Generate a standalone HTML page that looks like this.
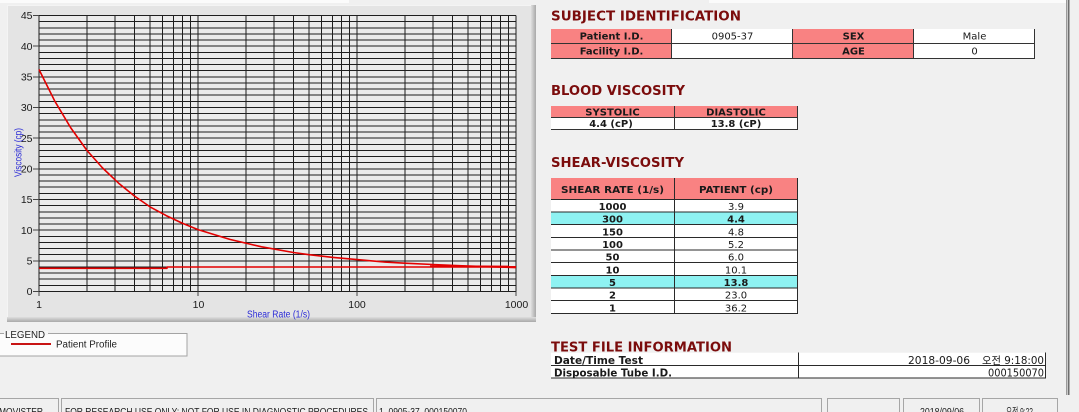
<!DOCTYPE html>
<html><head><meta charset="utf-8">
<style>html,body{margin:0;padding:0;background:#f0f0f0;overflow:hidden;width:1079px;height:412px}svg{display:block}</style>
</head><body>
<svg xmlns="http://www.w3.org/2000/svg" width="1079" height="412" viewBox="0 0 1079 412">
<defs>
<linearGradient id="gr" x1="0" x2="1" y1="0" y2="0"><stop offset="0" stop-color="#dedede"/><stop offset="1" stop-color="#a8a8a8"/></linearGradient>
<linearGradient id="gb" x1="0" x2="0" y1="0" y2="1"><stop offset="0" stop-color="#dedede"/><stop offset="1" stop-color="#a8a8a8"/></linearGradient>
</defs>
<rect x="0" y="0" width="1079" height="412" fill="#f0f0f0"/>
<rect x="0" y="0" width="349" height="3" fill="#fbfbfb"/>
<rect x="709" y="0" width="357" height="3" fill="#fbfbfb"/>

<!-- chart panel -->
<rect x="7" y="5" width="529" height="317" fill="#e4e4e4"/>
<rect x="7" y="5" width="529" height="1" fill="#f4f4f4"/>
<rect x="7" y="5" width="1" height="317" fill="#f4f4f4"/>
<rect x="531" y="5" width="5" height="317" fill="url(#gr)"/>
<rect x="7" y="317" width="529" height="5" fill="url(#gb)"/>
<rect x="39" y="15.5" width="477" height="276" fill="#ebebeb"/>

<g stroke="#1e1e1e" stroke-width="1" shape-rendering="crispEdges" fill="none">
<path d="M39 15.5V291.5M86.9 15.5V291.5M114.9 15.5V291.5M134.7 15.5V291.5M150.1 15.5V291.5M162.7 15.5V291.5M173.4 15.5V291.5M182.6 15.5V291.5M190.7 15.5V291.5M198 15.5V291.5M245.9 15.5V291.5M273.9 15.5V291.5M293.7 15.5V291.5M309.1 15.5V291.5M321.7 15.5V291.5M332.4 15.5V291.5M341.6 15.5V291.5M349.7 15.5V291.5M357 15.5V291.5M404.9 15.5V291.5M432.9 15.5V291.5M452.7 15.5V291.5M468.1 15.5V291.5M480.7 15.5V291.5M491.4 15.5V291.5M500.6 15.5V291.5M508.7 15.5V291.5M516 15.5V291.5"/>
<path d="M39 291.5H516M39 285.37H516M39 279.23H516M39 273.1H516M39 266.97H516M39 260.83H516M39 254.7H516M39 248.57H516M39 242.43H516M39 236.3H516M39 230.17H516M39 224.03H516M39 217.9H516M39 211.77H516M39 205.63H516M39 199.5H516M39 193.37H516M39 187.23H516M39 181.1H516M39 174.97H516M39 168.83H516M39 162.7H516M39 156.57H516M39 150.43H516M39 144.3H516M39 138.17H516M39 132.03H516M39 125.9H516M39 119.77H516M39 113.63H516M39 107.5H516M39 101.37H516M39 95.23H516M39 89.1H516M39 82.97H516M39 76.83H516M39 70.7H516M39 64.57H516M39 58.43H516M39 52.3H516M39 46.17H516M39 40.03H516M39 33.9H516M39 27.77H516M39 21.63H516M39 15.5H516"/>
<path stroke="#444" d="M33 291.5H39M33 260.83H39M33 230.17H39M33 199.5H39M33 168.83H39M33 138.17H39M33 107.5H39M33 76.83H39M33 46.17H39M33 15.5H39M39 291.5V296M198 291.5V296M357 291.5V296M516 291.5V296"/>
</g>

<!-- series -->
<g fill="none" stroke="#e30000" stroke-width="1.6" stroke-linejoin="round">
<polyline points="39,69.5 54.9,101.3 70.8,127.9 86.9,150.4 102.6,168 118.5,183.1 134.4,196 150.1,206.9 166.2,215.6 182.1,223.1 198,229.6 229.8,239.4 261.6,246.8 293.4,252.5 309.1,254.7 333.2,257.4 357,259.6 385,262.1 404.7,263.2 432.8,264.5 468.3,266.1 516,267.6"/>
<polyline points="39,268.3 167,268.3 167,267 516,267"/>
<polyline points="430,266.2 516,266.6" stroke-width="2"/>
</g>

<!-- axis labels -->
<g font-family="Liberation Sans, Arial, sans-serif" font-size="10.5" fill="#1a1a1a" text-anchor="end">
<text x="32.5" y="295.2">0</text>
<text x="32.5" y="264.5">5</text>
<text x="32.5" y="233.9">10</text>
<text x="32.5" y="203.2">15</text>
<text x="32.5" y="172.5">20</text>
<text x="32.5" y="141.9">25</text>
<text x="32.5" y="111.2">30</text>
<text x="32.5" y="80.5">35</text>
<text x="32.5" y="49.9">40</text>
<text x="32.5" y="19.2">45</text>
</g>
<g font-family="Liberation Sans, Arial, sans-serif" font-size="10.5" fill="#1a1a1a" text-anchor="middle">
<text x="39" y="308">1</text>
<text x="198.5" y="308">10</text>
<text x="357" y="308">100</text>
<text x="516.5" y="308">1000</text>
</g>
<text x="247" y="317.5" font-family="Liberation Sans, Arial, sans-serif" font-size="10" fill="#2b2bd6" textLength="63" lengthAdjust="spacingAndGlyphs">Shear Rate (1/s)</text>
<text transform="translate(21.5,177) rotate(-90)" x="0" y="0" font-family="Liberation Sans, Arial, sans-serif" font-size="10" fill="#2b2bd6" textLength="49" lengthAdjust="spacingAndGlyphs">Viscosity (cp)</text>

<!-- legend -->
<rect x="-1" y="333.5" width="188" height="22.5" fill="#fcfcfc" stroke="#a4a4a4" stroke-width="1" shape-rendering="crispEdges"/>
<rect x="4" y="331" width="44" height="4" fill="#f6f6f6"/>
<text x="5" y="338" font-family="Liberation Sans, Arial, sans-serif" font-size="10" fill="#222" textLength="40" lengthAdjust="spacingAndGlyphs">LEGEND</text>
<line x1="11" y1="344" x2="51" y2="344" stroke="#c81414" stroke-width="2"/>
<text x="56" y="347.5" font-family="Liberation Sans, Arial, sans-serif" font-size="10" fill="#222" textLength="61" lengthAdjust="spacingAndGlyphs">Patient Profile</text>

<!-- right panel titles -->
<g font-family="DejaVu Sans, Liberation Sans, sans-serif" font-weight="bold" font-size="13.5" fill="#7b0c0c">
<text x="551" y="20.5" textLength="190" lengthAdjust="spacingAndGlyphs">SUBJECT IDENTIFICATION</text>
<text x="551" y="95" textLength="134" lengthAdjust="spacingAndGlyphs">BLOOD VISCOSITY</text>
<text x="551" y="167" textLength="133" lengthAdjust="spacingAndGlyphs">SHEAR-VISCOSITY</text>
<text x="551" y="351.5" textLength="181" lengthAdjust="spacingAndGlyphs">TEST FILE INFORMATION</text>
</g>

<!-- table 1 -->
<rect x="551" y="29" width="121" height="29.5" fill="#f98282"/>
<rect x="672" y="29" width="121" height="29.5" fill="#ffffff"/>
<rect x="793" y="29" width="121" height="29.5" fill="#f98282"/>
<rect x="914" y="29" width="121" height="29.5" fill="#ffffff"/>
<g stroke="#333" stroke-width="1" shape-rendering="crispEdges">
<path d="M551 43.5H1035M551 58.5H1035M671.5 29V59M792.5 29V59M913.5 29V59M1034.5 29V59"/>
</g>
<g font-family="DejaVu Sans, Liberation Sans, sans-serif" font-size="10" fill="#1a1a1a" text-anchor="middle">
<text x="611.5" y="39.5" font-weight="bold">Patient I.D.</text>
<text x="611.5" y="54.5" font-weight="bold">Facility I.D.</text>
<text x="732.5" y="39.5">0905-37</text>
<text x="853.5" y="39.5" font-weight="bold">SEX</text>
<text x="853.5" y="54.5" font-weight="bold">AGE</text>
<text x="974.5" y="39.5">Male</text>
<text x="974.5" y="54.5">0</text>
</g>

<!-- table 2 -->
<rect x="551" y="106" width="247" height="11" fill="#f98282"/>
<rect x="551" y="117" width="247" height="12.5" fill="#ffffff"/>
<g stroke="#333" stroke-width="1" shape-rendering="crispEdges">
<path d="M551 117.5H798M551 129.5H798M674.5 106V130M797.5 106V130"/>
</g>
<g font-family="DejaVu Sans, Liberation Sans, sans-serif" font-size="10" font-weight="bold" fill="#1a1a1a" text-anchor="middle">
<text x="612.5" y="115.5">SYSTOLIC</text>
<text x="736" y="115.5">DIASTOLIC</text>
<text x="611" y="127">4.4 (cP)</text>
<text x="736" y="127">13.8 (cP)</text>
</g>

<!-- table 3 -->
<rect x="551" y="178" width="247" height="21" fill="#f98282"/>
<rect x="551" y="199" width="247" height="114" fill="#ffffff"/>
<rect x="551" y="211.7" width="247" height="12.7" fill="#8ef2f2"/>
<rect x="551" y="275" width="247" height="12.7" fill="#8ef2f2"/>
<g stroke="#2a2a2a" stroke-width="1" shape-rendering="crispEdges">
<path d="M551 199.5H798M551 212H798M551 224.7H798M551 237.3H798M551 250H798M551 262.7H798M551 275.3H798M551 288H798M551 300.7H798M551 313.5H798M674.5 178V314M797.5 178V314"/>
</g>
<g font-family="DejaVu Sans, Liberation Sans, sans-serif" font-size="10" fill="#1a1a1a" text-anchor="middle">
<text x="612.5" y="193" font-weight="bold" textLength="103" lengthAdjust="spacingAndGlyphs">SHEAR RATE (1/s)</text>
<text x="736" y="193" font-weight="bold" textLength="74" lengthAdjust="spacingAndGlyphs">PATIENT (cp)</text>
<g font-weight="bold">
<text x="612.5" y="210">1000</text>
<text x="612.5" y="222.7">300</text>
<text x="612.5" y="235.3">150</text>
<text x="612.5" y="248">100</text>
<text x="612.5" y="260.7">50</text>
<text x="612.5" y="273.3">10</text>
<text x="612.5" y="286">5</text>
<text x="612.5" y="298.7">2</text>
<text x="612.5" y="311.3">1</text>
</g>
<text x="736" y="210">3.9</text>
<text x="736" y="222.7" font-weight="bold">4.4</text>
<text x="736" y="235.3">4.8</text>
<text x="736" y="248">5.2</text>
<text x="736" y="260.7">6.0</text>
<text x="736" y="273.3">10.1</text>
<text x="736" y="286" font-weight="bold">13.8</text>
<text x="736" y="298.7">23.0</text>
<text x="736" y="311.3">36.2</text>
</g>

<!-- table 4 -->
<rect x="551" y="352.7" width="495" height="25.6" fill="#ffffff"/>
<g stroke="#2a2a2a" stroke-width="1" shape-rendering="crispEdges">
<path d="M551 365.5H1046M551 378H1046M798.5 352.7V378.5M1045.5 352.7V378.5"/>
</g>
<g font-family="DejaVu Sans, Liberation Sans, sans-serif" font-size="10.5" fill="#1a1a1a">
<text x="554" y="364" font-weight="bold" textLength="89" lengthAdjust="spacingAndGlyphs">Date/Time Test</text>
<text x="554" y="376.5" font-weight="bold" textLength="118" lengthAdjust="spacingAndGlyphs">Disposable Tube I.D.</text>
<text x="908" y="364" textLength="62" lengthAdjust="spacingAndGlyphs">2018-09-06</text>
<text x="982" y="364" font-family="DejaVu Sans, Noto Sans CJK KR, sans-serif" textLength="62" lengthAdjust="spacingAndGlyphs">오전 9:18:00</text>
<text x="988" y="376.5" textLength="56" lengthAdjust="spacingAndGlyphs">000150070</text>
</g>

<!-- right vertical bar -->
<rect x="1066" y="0" width="1" height="395" fill="#9a9a9a"/>
<rect x="1067" y="0" width="1" height="395" fill="#c8c8c8"/>
<rect x="1068" y="0" width="1.5" height="395" fill="#6e6e6e"/>

<!-- status bar -->
<g fill="none" stroke="#a6a6a6" stroke-width="1" shape-rendering="crispEdges">
<path d="M-1 398.5H58.5V412"/>
<path d="M61.5 412V398.5H373.5V412"/>
<path d="M376.5 412V398.5H821.5V412"/>
<path d="M827.5 412V398.5H899.5V412"/>
<path d="M903.5 412V398.5H979.5V412"/>
<path d="M982.5 412V398.5H1057.5V412"/>
</g>
<g font-family="Liberation Sans, Arial, sans-serif" font-size="10.5" fill="#1a1a1a">
<text x="-1" y="415" textLength="44" lengthAdjust="spacingAndGlyphs">MOVISTER</text>
<text x="65" y="415" textLength="303" lengthAdjust="spacingAndGlyphs">FOR RESEARCH USE ONLY: NOT FOR USE IN DIAGNOSTIC PROCEDURES</text>
<text x="379" y="415" textLength="88" lengthAdjust="spacingAndGlyphs">1_0905-37_000150070</text>
<text x="920" y="415" textLength="44" lengthAdjust="spacingAndGlyphs">2018/09/06</text>
<text x="1006" y="415" font-family="Liberation Sans, Noto Sans CJK KR, sans-serif" textLength="27" lengthAdjust="spacingAndGlyphs">오전 9:22</text>
</g>
</svg>
</body></html>
